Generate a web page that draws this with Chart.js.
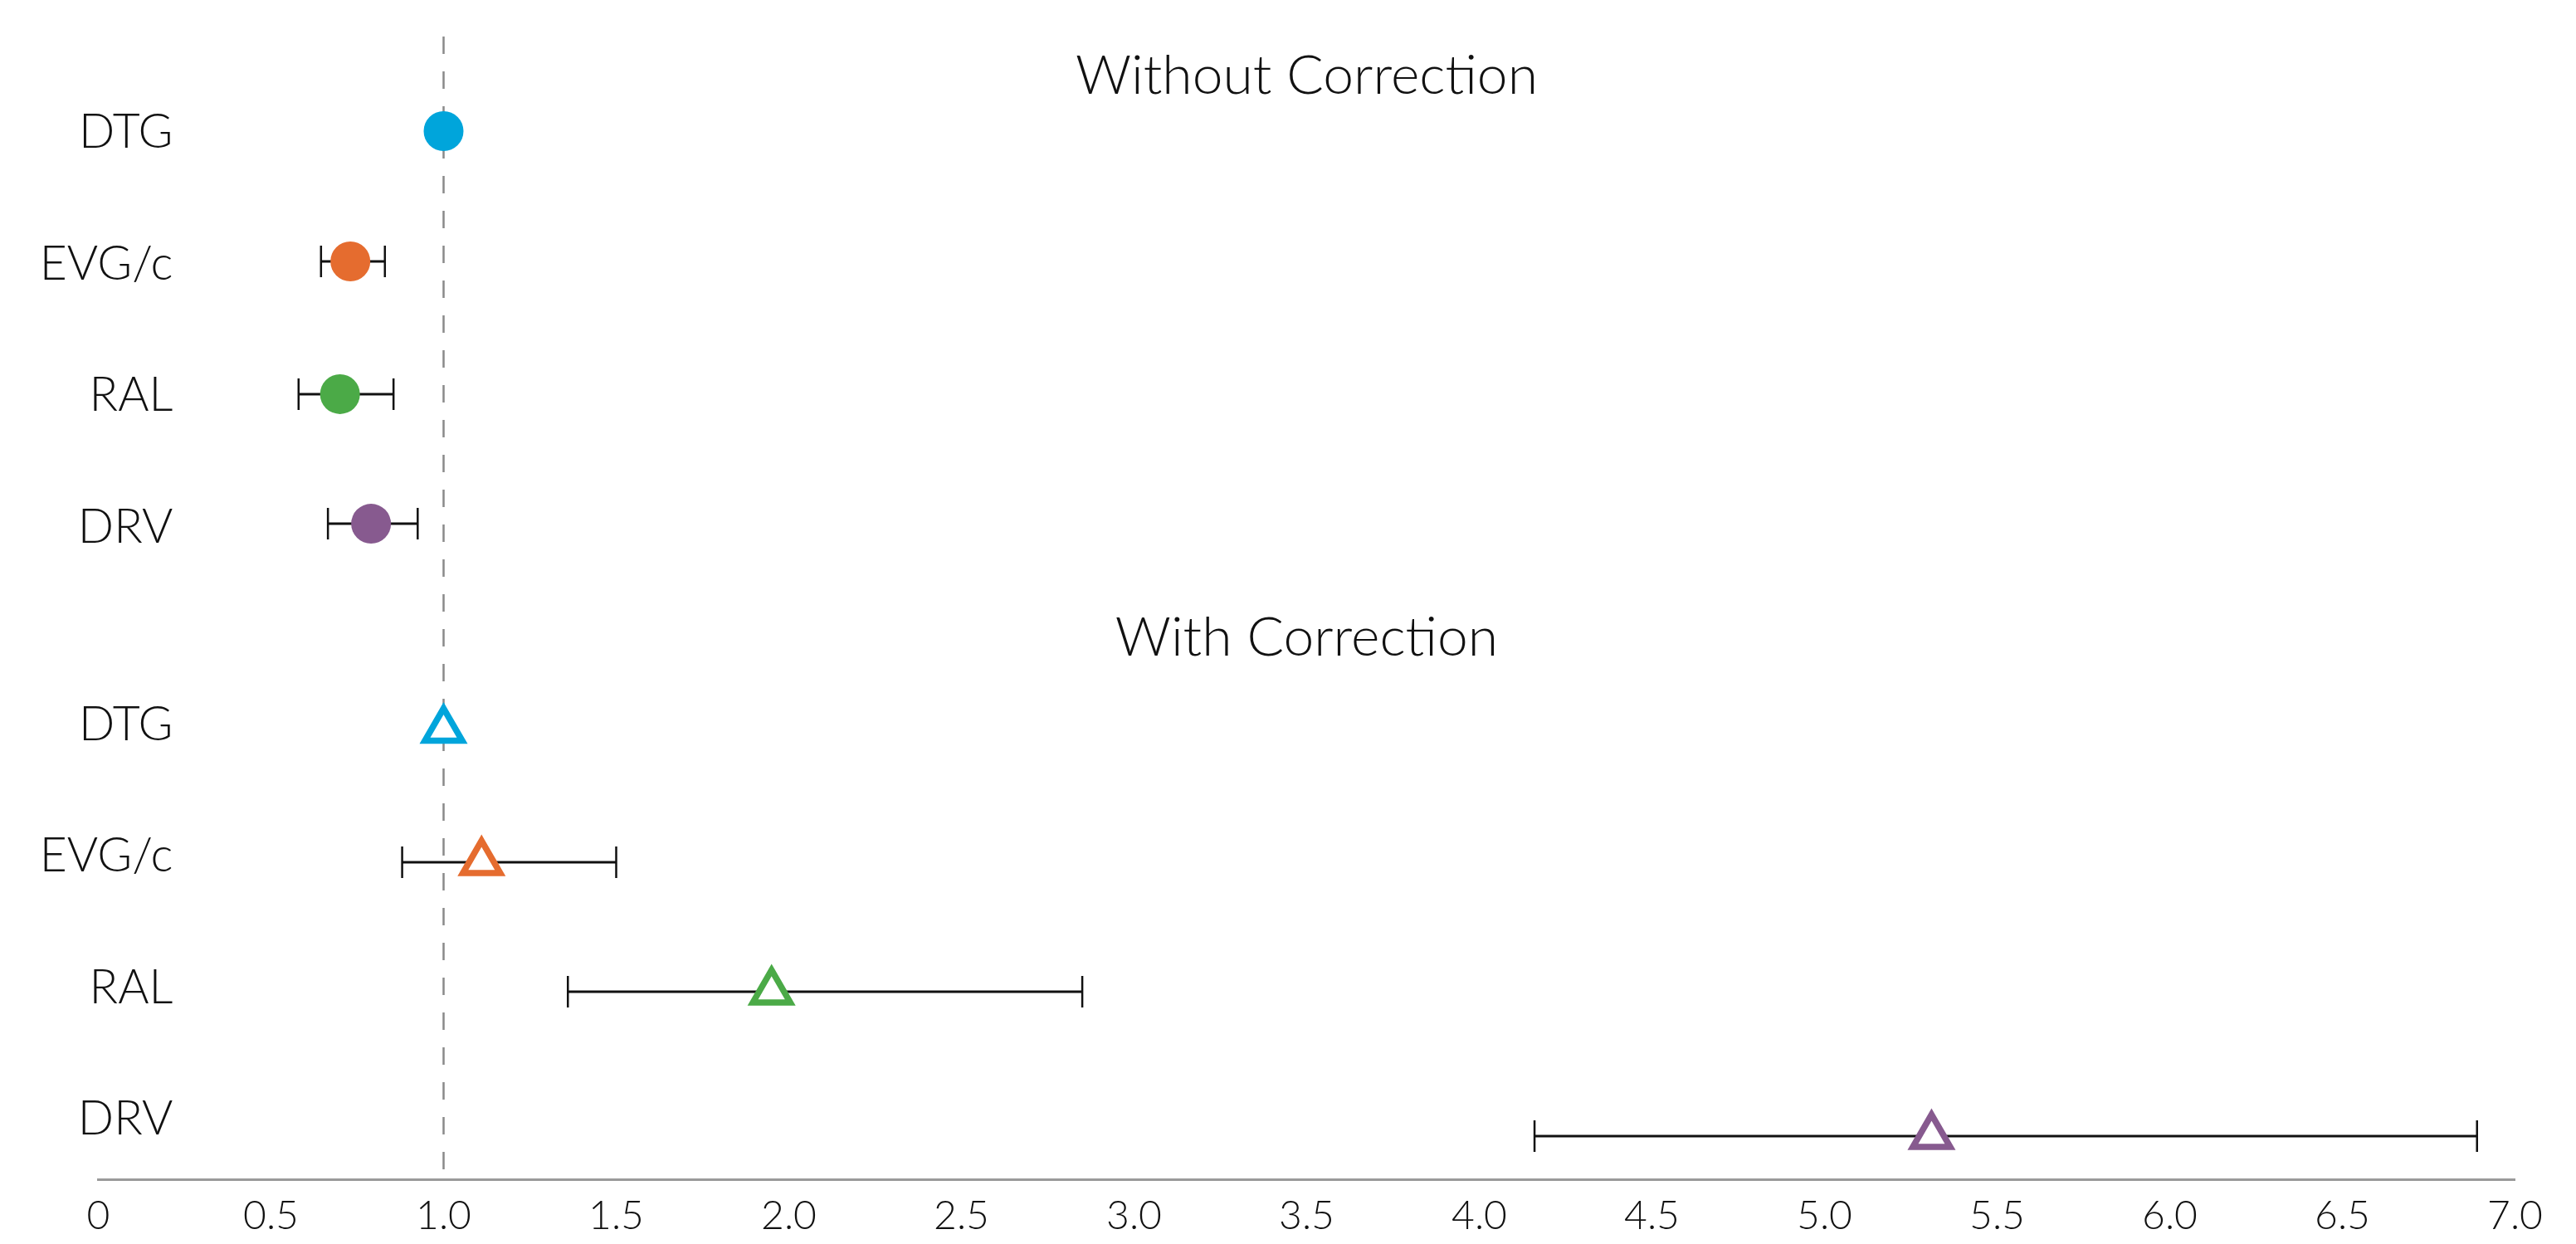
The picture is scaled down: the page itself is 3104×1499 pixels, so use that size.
<!DOCTYPE html>
<html>
<head>
<meta charset="utf-8">
<script src="https://cdn.jsdelivr.net/npm/chart.js@4.4.1/dist/chart.umd.min.js"></script>
<style>
  html, body { margin: 0; padding: 0; background: #fff; }
  #wrap { width: 3104px; height: 1499px; }
</style>
</head>
<body>
<div id="wrap"><canvas id="myChart" width="3104" height="1499"></canvas></div>
<script>
// データ
const drugs = ['DTG', 'EVG/c', 'RAL', 'DRV'];
const sectionTitles = ['Without Correction', 'With Correction'];

const withoutRatio = [1.00, 0.73, 0.70, 0.79];
const withoutLow = [null, 0.645, 0.58, 0.665];
const withoutHigh = [null, 0.83, 0.855, 0.925];

const withRatio = [1.00, 1.11, 1.95, 5.31];
const withLow = [null, 0.88, 1.36, 4.16];
const withHigh = [null, 1.50, 2.85, 6.89];

const refValue = 1.0;
const xTickValues = [0, 0.5, 1.0, 1.5, 2.0, 2.5, 3.0, 3.5, 4.0, 4.5, 5.0, 5.5, 6.0, 6.5, 7.0];
const xTickLabels = ['0', '0.5', '1.0', '1.5', '2.0', '2.5', '3.0', '3.5', '4.0', '4.5', '5.0', '5.5', '6.0', '6.5', '7.0'];

// 色
const drugColors = ['#00a5db', '#e56c2f', '#4baa47', '#875a8f'];

// 行の位置（レイアウト）
const labelRows = [0, 1, 2, 3, 4.5, 5.5, 6.5, 7.5];
const withoutRows = [-0.013, 0.978, 1.987, 2.972];
const withRows = [4.54, 5.546, 6.53, 7.628];
const titleRows = [-0.43, 3.84];
const titleX = 3.5;
const labelX = 0.216; // 行ラベルの右端 (x軸の値)

const FONT = 'Lato';

// 誤差棒・基準線・見出し・行ラベルを描くプラグイン
const forestPlugin = {
    id: 'forest',
    beforeDatasetsDraw(chart) {
        const ctx = chart.ctx;
        const xs = chart.scales.x;
        const ys = chart.scales.y;
        const area = chart.chartArea;

        // 誤差棒
        const drawBars = (lows, highs, rows) => {
            lows.forEach((lo, i) => {
                if (lo === null) return;
                const x1 = xs.getPixelForValue(lo);
                const x2 = xs.getPixelForValue(highs[i]);
                const y = ys.getPixelForValue(rows[i]);
                ctx.save();
                ctx.strokeStyle = '#111';
                ctx.lineWidth = 3;
                ctx.beginPath();
                ctx.moveTo(x1, y);
                ctx.lineTo(x2, y);
                ctx.stroke();
                ctx.lineWidth = 2.5;
                ctx.beginPath();
                ctx.moveTo(x1, y - 19);
                ctx.lineTo(x1, y + 19);
                ctx.moveTo(x2, y - 19);
                ctx.lineTo(x2, y + 19);
                ctx.stroke();
                ctx.restore();
            });
        };
        drawBars(withoutLow, withoutHigh, withoutRows);
        drawBars(withLow, withHigh, withRows);

        // 基準線 (x = 1.0)
        const rx = xs.getPixelForValue(refValue);
        ctx.save();
        ctx.strokeStyle = '#8a8a8a';
        ctx.lineWidth = 2.5;
        ctx.setLineDash([21, 21]);
        ctx.beginPath();
        ctx.moveTo(rx, area.top);
        ctx.lineTo(rx, area.bottom - 10);
        ctx.stroke();
        ctx.restore();

        // 見出し
        ctx.save();
        ctx.fillStyle = '#111';
        ctx.textBaseline = 'middle';
        ctx.font = `300 66px ${FONT}`;
        ctx.textAlign = 'center';
        sectionTitles.forEach((t, i) => {
            ctx.fillText(t, xs.getPixelForValue(titleX), ys.getPixelForValue(titleRows[i]));
        });

        // 行ラベル
        ctx.font = `300 57px ${FONT}`;
        ctx.textAlign = 'right';
        labelRows.forEach((r, i) => {
            ctx.fillText(drugs[i % drugs.length], xs.getPixelForValue(labelX), ys.getPixelForValue(r));
        });
        ctx.restore();
    }
};

const ctx = document.getElementById('myChart').getContext('2d');

new Chart(ctx, {
    type: 'scatter',
    data: {
        datasets: [
            {
                label: sectionTitles[0],
                data: withoutRatio.map((v, i) => ({ x: v, y: withoutRows[i] })),
                pointStyle: 'circle',
                pointRadius: 24,
                pointBackgroundColor: drugColors,
                pointBorderWidth: 0,
                pointBorderColor: drugColors
            },
            {
                label: sectionTitles[1],
                data: withRatio.map((v, i) => ({ x: v, y: withRows[i] })),
                pointStyle: 'triangle',
                pointRadius: 26,
                pointBackgroundColor: '#ffffff',
                pointBorderColor: drugColors,
                pointBorderWidth: 7.5
            }
        ]
    },
    options: {
        responsive: false,
        animation: false,
        devicePixelRatio: 1,
        layout: {
            padding: { top: 44, right: 73.5, left: 0, bottom: 0 }
        },
        scales: {
            x: {
                type: 'linear',
                min: 0,
                max: 7,
                afterBuildTicks: (scale) => {
                    scale.ticks = xTickValues.map(v => ({ value: v }));
                },
                afterFit: (scale) => { scale.height = 78; },
                grid: { display: false, drawTicks: false },
                border: { display: true, color: '#9a9a9a', width: 3 },
                ticks: {
                    padding: 16,
                    color: '#111',
                    font: { family: FONT, size: 48, weight: '300' },
                    maxRotation: 0,
                    autoSkip: false,
                    callback: (v) => {
                        const i = xTickValues.indexOf(v);
                        return i >= 0 ? xTickLabels[i] : '';
                    }
                }
            },
            y: {
                type: 'linear',
                reverse: true,
                min: -0.732,
                max: 7.956,
                afterFit: (scale) => { scale.width = 118.5; },
                grid: { display: false, drawTicks: false },
                border: { display: false },
                ticks: { display: false }
            }
        },
        plugins: {
            legend: { display: false },
            tooltip: { enabled: false }
        }
    },
    plugins: [forestPlugin]
});
</script>
</body>
</html>
